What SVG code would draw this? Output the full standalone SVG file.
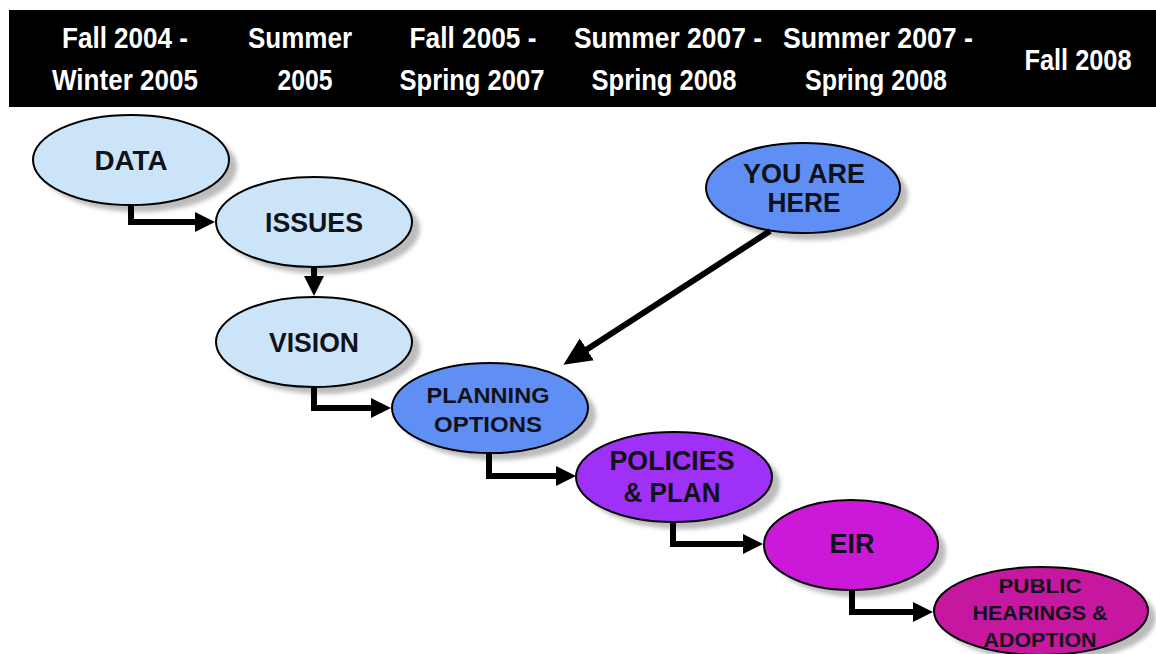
<svg xmlns="http://www.w3.org/2000/svg" width="1156" height="654" viewBox="0 0 1156 654">
<style>
.hdr{font-family:"Liberation Sans Narrow","Liberation Sans",Arial,sans-serif;font-weight:bold;font-size:29px;fill:#ffffff;text-anchor:middle}
.lbl{font-family:"Liberation Sans",Arial,sans-serif;font-weight:bold;fill:#111118;text-anchor:middle}
.sh{fill:#bcbcbc;filter:url(#blur)}
.nd{stroke:#000;stroke-width:2}
.lb{fill:#cce4f8}
.bl{fill:#5f8ef5}
.pu{fill:#9f30f5}
.mg{fill:#cc18d8}
.pk{fill:#c5179f}
.con{fill:none;stroke:#000;stroke-width:6;stroke-linejoin:miter}
</style>
<defs>
<filter id="blur" x="-20%" y="-20%" width="140%" height="140%"><feGaussianBlur stdDeviation="2"/></filter>
<marker id="ah" markerUnits="userSpaceOnUse" markerWidth="22" markerHeight="22" viewBox="0 -11 22 22" refX="1" refY="0" orient="auto"><path d="M0,-10 L20,0 L0,10 z" fill="#000"/></marker>
<marker id="ahb" markerUnits="userSpaceOnUse" markerWidth="30" markerHeight="30" viewBox="0 -15 30 30" refX="1" refY="0" orient="auto"><path d="M0,-13 L28,0 L0,13 z" fill="#000"/></marker>
</defs>
<rect width="1156" height="654" fill="#ffffff"/>
<g id="header">
<rect x="9" y="10" width="1147" height="97" fill="#000"/>
<text class="hdr" x="125" y="48" textLength="126" lengthAdjust="spacingAndGlyphs">Fall 2004 -</text>
<text class="hdr" x="125" y="90" textLength="146" lengthAdjust="spacingAndGlyphs">Winter 2005</text>
<text class="hdr" x="300" y="48" textLength="104" lengthAdjust="spacingAndGlyphs">Summer</text>
<text class="hdr" x="305" y="90" textLength="55" lengthAdjust="spacingAndGlyphs">2005</text>
<text class="hdr" x="473" y="48" textLength="127" lengthAdjust="spacingAndGlyphs">Fall 2005 -</text>
<text class="hdr" x="472" y="90" textLength="145" lengthAdjust="spacingAndGlyphs">Spring 2007</text>
<text class="hdr" x="668" y="48" textLength="188" lengthAdjust="spacingAndGlyphs">Summer 2007 -</text>
<text class="hdr" x="664" y="90" textLength="145" lengthAdjust="spacingAndGlyphs">Spring 2008</text>
<text class="hdr" x="878" y="48" textLength="190" lengthAdjust="spacingAndGlyphs">Summer 2007 -</text>
<text class="hdr" x="876" y="90" textLength="142" lengthAdjust="spacingAndGlyphs">Spring 2008</text>
<text class="hdr" x="1078" y="70" textLength="107" lengthAdjust="spacingAndGlyphs">Fall 2008</text>
</g>
<g id="data">
<ellipse class="sh" cx="139" cy="167" rx="98" ry="45"/>
<ellipse class="nd lb" cx="131" cy="160" rx="98" ry="45"/>
<text class="lbl" x="131" y="170" font-size="27" textLength="73" lengthAdjust="spacingAndGlyphs">DATA</text>
</g>
<g id="issues">
<ellipse class="sh" cx="322" cy="229" rx="98" ry="45"/>
<ellipse class="nd lb" cx="314" cy="222" rx="98" ry="45"/>
<text class="lbl" x="314" y="232" font-size="27" textLength="98" lengthAdjust="spacingAndGlyphs">ISSUES</text>
</g>
<g id="vision">
<ellipse class="sh" cx="322" cy="349" rx="98" ry="45"/>
<ellipse class="nd lb" cx="314" cy="342" rx="98" ry="45"/>
<text class="lbl" x="314" y="352" font-size="27" textLength="90" lengthAdjust="spacingAndGlyphs">VISION</text>
</g>
<g id="you-are-here">
<ellipse class="sh" cx="811" cy="195" rx="97" ry="45"/>
<ellipse class="nd bl" cx="803" cy="188" rx="97" ry="45"/>
<text class="lbl" x="804" y="183" font-size="27" textLength="122" lengthAdjust="spacingAndGlyphs">YOU ARE</text>
<text class="lbl" x="804" y="212" font-size="27" textLength="73" lengthAdjust="spacingAndGlyphs">HERE</text>
</g>
<g id="planning-options">
<ellipse class="sh" cx="498" cy="415" rx="98" ry="45"/>
<ellipse class="nd bl" cx="490" cy="408" rx="98" ry="45"/>
<text class="lbl" x="488" y="403" font-size="22" textLength="123" lengthAdjust="spacingAndGlyphs">PLANNING</text>
<text class="lbl" x="488" y="432" font-size="22" textLength="108" lengthAdjust="spacingAndGlyphs">OPTIONS</text>
</g>
<g id="policies-plan">
<ellipse class="sh" cx="682" cy="484" rx="98" ry="45"/>
<ellipse class="nd pu" cx="674" cy="477" rx="98" ry="45"/>
<text class="lbl" x="672" y="470" font-size="27" textLength="125" lengthAdjust="spacingAndGlyphs">POLICIES</text>
<text class="lbl" x="672" y="502" font-size="27" textLength="97" lengthAdjust="spacingAndGlyphs">&amp; PLAN</text>
</g>
<g id="eir">
<ellipse class="sh" cx="859" cy="552" rx="87" ry="45"/>
<ellipse class="nd mg" cx="851" cy="545" rx="87" ry="45"/>
<text class="lbl" x="852" y="553" font-size="27" textLength="45" lengthAdjust="spacingAndGlyphs">EIR</text>
</g>
<g id="public-hearings">
<ellipse class="sh" cx="1049" cy="618" rx="107" ry="44"/>
<ellipse class="nd pk" cx="1041" cy="611" rx="107" ry="44"/>
<text class="lbl" x="1040" y="593" font-size="20" textLength="83" lengthAdjust="spacingAndGlyphs">PUBLIC</text>
<text class="lbl" x="1040" y="620" font-size="20" textLength="135" lengthAdjust="spacingAndGlyphs">HEARINGS &amp;</text>
<text class="lbl" x="1040" y="647" font-size="20" textLength="113" lengthAdjust="spacingAndGlyphs">ADOPTION</text>
</g>
<g id="connectors">
<path class="con" d="M131,204 V222 H196" marker-end="url(#ah)"/>
<path class="con" d="M314,267 V277" marker-end="url(#ah)"/>
<path class="con" d="M314,386 V408 H372" marker-end="url(#ah)"/>
<path class="con" d="M489,452 V476 H557" marker-end="url(#ah)"/>
<path class="con" d="M673,521 V544 H744" marker-end="url(#ah)"/>
<path class="con" d="M852,589 V612 H914" marker-end="url(#ah)"/>
<path class="con" stroke-width="7" d="M770,231 L586,350" marker-end="url(#ahb)"/>
</g>
</svg>
